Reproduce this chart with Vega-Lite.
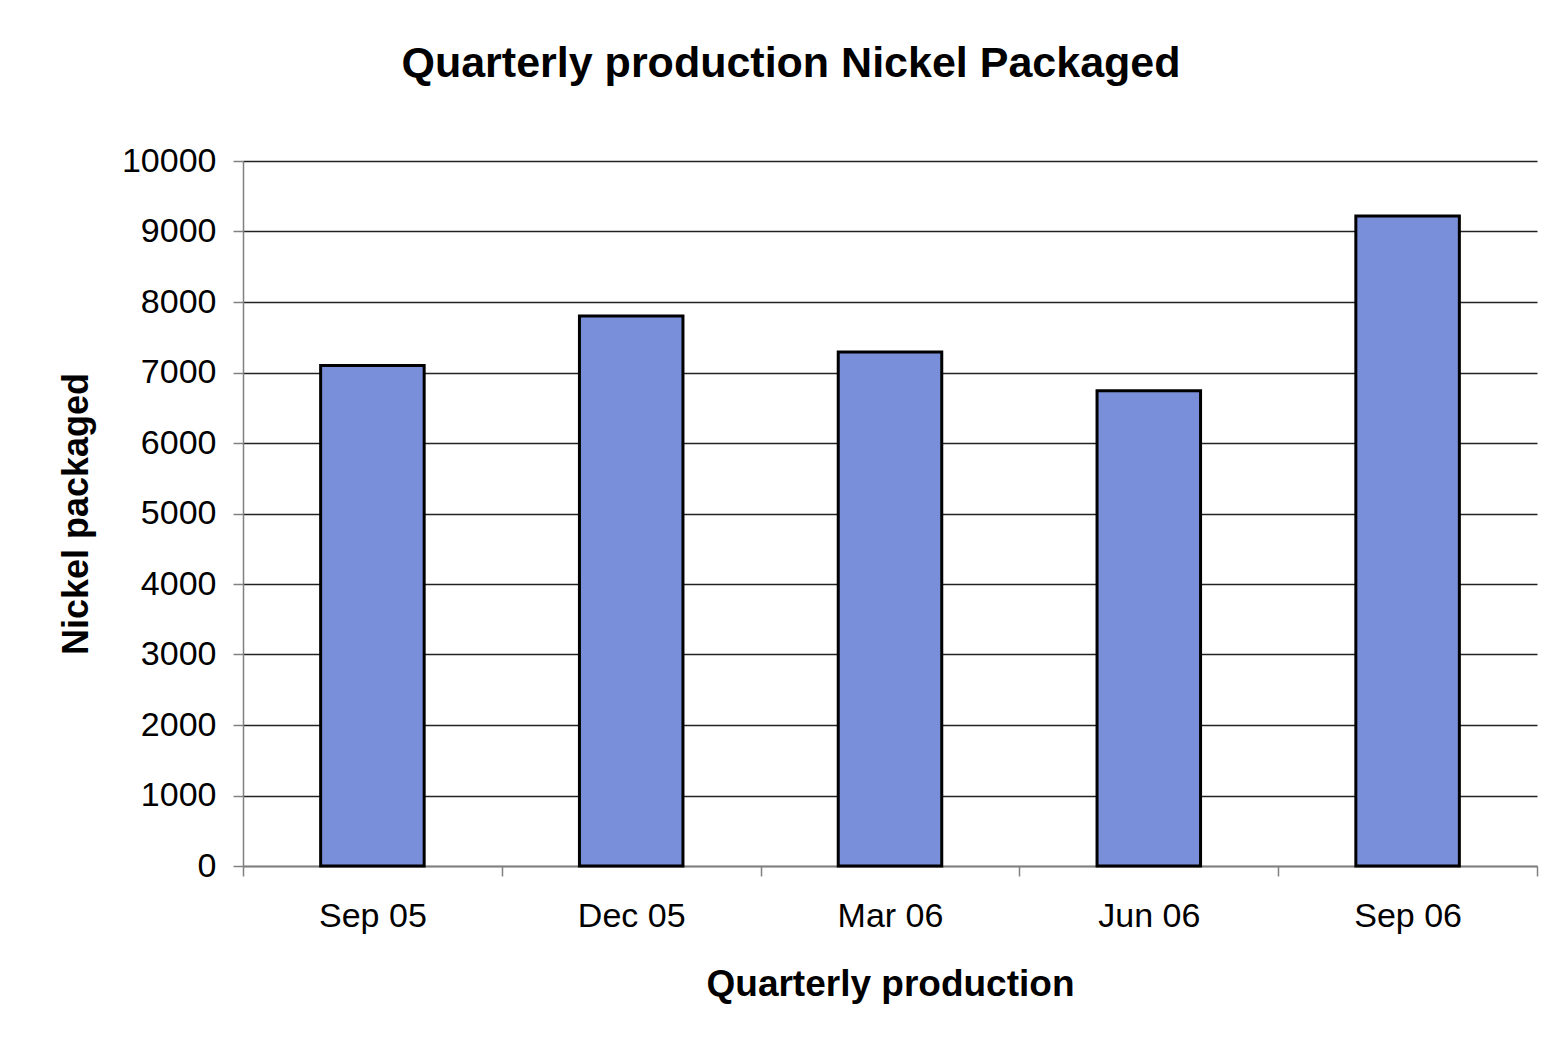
{
  "$schema": "https://vega.github.io/schema/vega-lite/v6.json",
  "autosize": "none",
  "width": 1294,
  "height": 705,
  "padding": {"left": 243, "top": 161, "right": 19, "bottom": 190},
  "background": "white",
  "title": {
    "text": "Quarterly production Nickel Packaged",
    "font": "Liberation Sans",
    "fontSize": 43,
    "fontWeight": "bold",
    "color": "black",
    "anchor": "middle",
    "dx": -99,
    "offset": 58
  },
  "data": {
    "values": [
      {"quarter": "Sep 05", "value": 7100},
      {"quarter": "Dec 05", "value": 7800},
      {"quarter": "Mar 06", "value": 7290},
      {"quarter": "Jun 06", "value": 6740},
      {"quarter": "Sep 06", "value": 9220}
    ]
  },
  "mark": {"type": "bar", "fill": "#7A8FD9", "stroke": "black", "strokeWidth": 3, "width": {"band": 0.4}},
  "encoding": {
    "x": {
      "field": "quarter",
      "type": "nominal",
      "sort": null,
      "scale": {"paddingInner": 0, "paddingOuter": 0},
      "axis": {
        "title": "Quarterly production",
        "titleFontSize": 37,
        "labelAngle": 0,
        "tickBand": "extent",
        "tickSize": 10,
        "tickColor": "#808080",
        "domainColor": "#808080",
        "labelPadding": 23,
        "titlePadding": 33
      }
    },
    "y": {
      "field": "value",
      "type": "quantitative",
      "scale": {"domain": [0, 10000], "nice": false},
      "axis": {
        "title": "Nickel packaged",
        "titleFontSize": 36,
        "values": [0, 1000, 2000, 3000, 4000, 5000, 6000, 7000, 8000, 9000, 10000],
        "format": "d",
        "grid": true,
        "gridColor": "#222222",
        "gridWidth": 1.5,
        "gridOpacity": 1,
        "tickSize": 10,
        "tickColor": "#808080",
        "domainColor": "#808080",
        "labelPadding": 17,
        "titlePadding": 26
      }
    }
  },
  "config": {
    "view": {"stroke": null},
    "axis": {
      "labelFont": "Liberation Sans",
      "labelFontSize": 34,
      "labelColor": "black",
      "titleFont": "Liberation Sans",
      "titleFontWeight": "bold",
      "titleColor": "black",
      "domainWidth": 1.5,
      "tickWidth": 1.5
    }
  }
}
